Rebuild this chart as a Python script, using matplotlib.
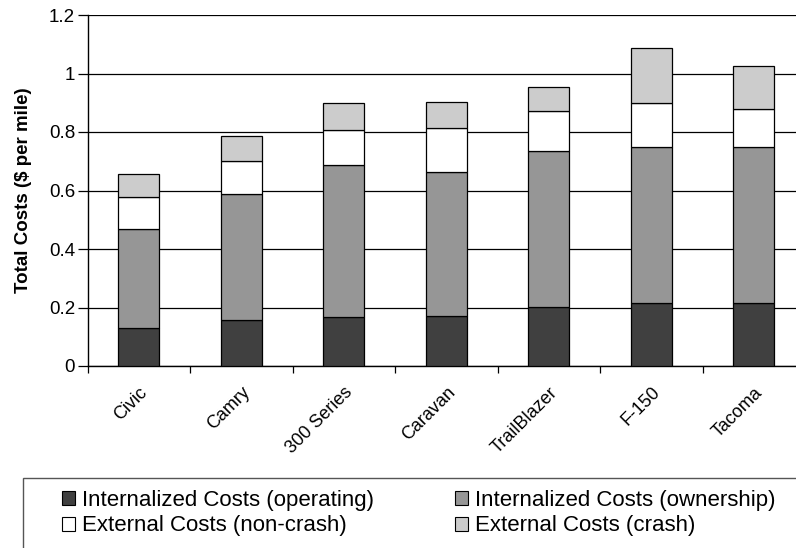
import matplotlib
matplotlib.use("Agg")
import matplotlib.pyplot as plt
from matplotlib.patches import Patch, Rectangle
import numpy as np

plt.rcParams['font.family'] = ['Liberation Sans', 'DejaVu Sans']

vehicles = ["Civic", "Camry", "300 Series", "Caravan", "TrailBlazer", "F-150", "Tacoma"]

# stacked segments ($ per mile)
operating = [0.131, 0.156, 0.169, 0.171, 0.203, 0.215, 0.214]
ownership = [0.339, 0.431, 0.517, 0.493, 0.533, 0.535, 0.536]
non_crash = [0.109, 0.115, 0.121, 0.149, 0.136, 0.148, 0.130]
crash = [0.076, 0.083, 0.091, 0.091, 0.081, 0.189, 0.147]

series_names = ["Internalized Costs (operating)", "Internalized Costs (ownership)",
                "External Costs (non-crash)", "External Costs (crash)"]
colors = ["#404040", "#969696", "#ffffff", "#cccccc"]

y_ticks = [0, 0.2, 0.4, 0.6, 0.8, 1.0, 1.2]
y_tick_labels = ["0", "0.2", "0.4", "0.6", "0.8", "1", "1.2"]

fig = plt.figure(figsize=(7.96, 5.48), dpi=100)
ax = fig.add_axes([87.7 / 796, 1 - 366 / 548, 717.5 / 796, 351 / 548])

x = np.arange(len(vehicles))
bottom = np.zeros(len(vehicles))
for vals, col in zip([operating, ownership, non_crash, crash], colors):
    ax.bar(x, vals, width=0.4, bottom=bottom, color=col, edgecolor="black",
           linewidth=0.9, zorder=3)
    bottom += np.array(vals)

ax.set_xlim(-0.5, len(vehicles) - 0.5)
ax.set_ylim(0, 1.2)
ax.set_yticks(y_ticks)
ax.set_yticklabels(y_tick_labels, fontsize=13.5)
ax.yaxis.grid(True, color="black", linewidth=0.9, zorder=0)

ax.set_xticks(x)
ax.set_xticklabels(vehicles, fontsize=13, rotation=45, ha="right", va="top",
                   rotation_mode="anchor")
ax.tick_params(axis="x", length=0, pad=13)
ax.set_xticks(np.arange(len(vehicles) + 1) - 0.5, minor=True)
ax.tick_params(axis="x", which="minor", length=5, width=0.9, color="black")
ax.tick_params(axis="y", length=7, width=0.9, color="black", pad=2)

for s in ["top", "right"]:
    ax.spines[s].set_visible(False)
for s in ["left", "bottom"]:
    ax.spines[s].set_linewidth(1.0)
    ax.spines[s].set_color("black")

ax.set_ylabel("Total Costs ($ per mile)", fontsize=13.5, fontweight="bold", labelpad=12)

# legend box, cut off at the right and bottom like the original
fig.patches.append(Rectangle((23 / 796, -0.05), 1.0, 1 - 478 / 548 + 0.05,
                             transform=fig.transFigure, facecolor="white",
                             edgecolor="#555555", linewidth=1.0))
handles = [Patch(facecolor=c, edgecolor="black", linewidth=0.8) for c in colors]
# matplotlib fills legend columns first, so reorder to get rows like the original
order = [0, 2, 1, 3]
fig.legend([handles[i] for i in order], [series_names[i] for i in order],
           loc="upper left", ncol=2, frameon=False,
           bbox_to_anchor=(62 / 796, 1 - 490 / 548), fontsize=16,
           handlelength=0.6, handleheight=0.6, handletextpad=0.3,
           columnspacing=3.65, labelspacing=0.2, borderpad=0, borderaxespad=0)

fig.savefig("out.png", dpi=100)
